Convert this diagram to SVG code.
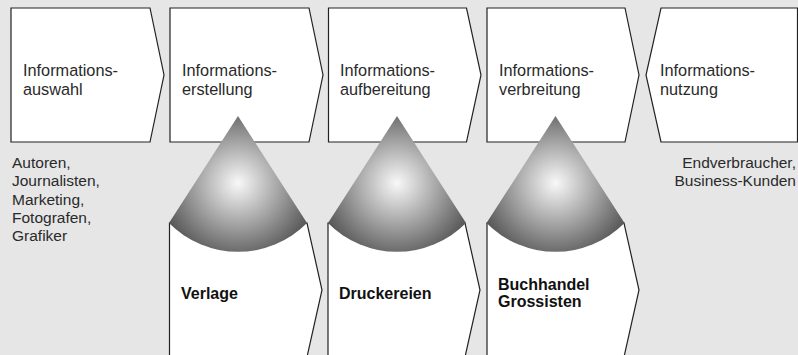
<svg xmlns="http://www.w3.org/2000/svg" width="798" height="355" viewBox="0 0 798 355">
<style>
.box{fill:#fff;stroke:#222;stroke-width:1.2}
.t{font-family:"Liberation Sans",Arial,sans-serif;font-size:16.3px;fill:#2a2a2a}
.s{font-family:"Liberation Sans",Arial,sans-serif;font-size:15.5px;fill:#2a2a2a}
.b{font-family:"Liberation Sans",Arial,sans-serif;font-size:16px;font-weight:bold;fill:#111}
</style>
<defs>
<radialGradient id="g1" gradientUnits="userSpaceOnUse" cx="238" cy="183" r="84">
<stop offset="0" stop-color="#f8f8f8"/><stop offset="1" stop-color="#4d4d4d"/>
</radialGradient>
<radialGradient id="g2" gradientUnits="userSpaceOnUse" cx="397" cy="183" r="84">
<stop offset="0" stop-color="#f8f8f8"/><stop offset="1" stop-color="#4d4d4d"/>
</radialGradient>
<radialGradient id="g3" gradientUnits="userSpaceOnUse" cx="555.5" cy="183" r="84">
<stop offset="0" stop-color="#f8f8f8"/><stop offset="1" stop-color="#4d4d4d"/>
</radialGradient>
</defs>
<rect width="798" height="355" fill="#e6e6e6"/>
<g id="n1"><path class="box" d="M11,8 H150 L164,75 L150,142 H11 Z"/>
<text class="t" x="23" y="76">Informations-</text><text class="t" x="23" y="95">auswahl</text></g>
<g id="n2"><path class="box" d="M170,8 H309 L323,75 L309,142 H170 Z"/>
<text class="t" x="182" y="76">Informations-</text><text class="t" x="182" y="95">erstellung</text></g>
<g id="n3"><path class="box" d="M328.5,8 H466.5 L481,75 L466.5,142 H328.5 Z"/>
<text class="t" x="340" y="76">Informations-</text><text class="t" x="340" y="95">aufbereitung</text></g>
<g id="n4"><path class="box" d="M487,8 H625 L639,75 L625,142 H487 Z"/>
<text class="t" x="499" y="76">Informations-</text><text class="t" x="499" y="95">verbreitung</text></g>
<g id="n5"><path class="box" d="M661,8 H797.5 V142 H661 L646,75 Z"/>
<text class="t" x="660" y="76">Informations-</text><text class="t" x="660" y="95">nutzung</text></g>
<g id="l1"><text class="s" x="12" y="168">Autoren,</text><text class="s" x="12" y="186">Journalisten,</text><text class="s" x="12" y="204.5">Marketing,</text><text class="s" x="12" y="222.5">Fotografen,</text><text class="s" x="12" y="240.5">Grafiker</text></g>
<g id="l2"><text class="s" x="796" y="168" text-anchor="end">Endverbraucher,</text><text class="s" x="796" y="186" text-anchor="end">Business-Kunden</text></g>
<g id="b1"><path class="box" d="M169.5,223 H307 L322,290 L307,357 H169.5 Z"/>
<path d="M238,116 L169,223 A97,97 0 0 0 307,223 Z" fill="url(#g1)"/>
<text class="b" x="181" y="299">Verlage</text></g>
<g id="b2"><path class="box" d="M328,223 H465 L480,290 L465,357 H328 Z"/>
<path d="M397,116 L328,223 A97,97 0 0 0 466,223 Z" fill="url(#g2)"/>
<text class="b" x="339" y="299">Druckereien</text></g>
<g id="b3"><path class="box" d="M487,223 H624 L639,290 L624,357 H487 Z"/>
<path d="M555.5,116 L486.5,223 A97,97 0 0 0 624.5,223 Z" fill="url(#g3)"/>
<text class="b" x="498" y="290">Buchhandel</text><text class="b" x="498" y="307">Grossisten</text></g>
<g id="connectors"/>
</svg>
